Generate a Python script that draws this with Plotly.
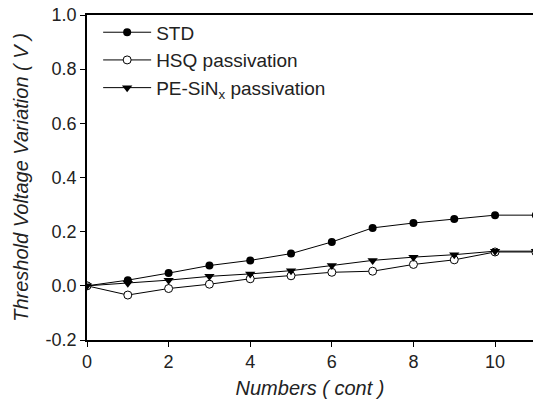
import plotly.graph_objects as go

numbers = [0, 1, 2, 3, 4, 5, 6, 7, 8, 9, 10, 11]
std_vals = [0.0, 0.021, 0.047, 0.075, 0.094, 0.119, 0.162, 0.214, 0.232, 0.247, 0.261, 0.261]
hsq_vals = [0.0, -0.034, -0.010, 0.006, 0.026, 0.037, 0.050, 0.054, 0.079, 0.096, 0.125, 0.125]
sin_vals = [0.0, 0.010, 0.021, 0.035, 0.044, 0.056, 0.075, 0.094, 0.106, 0.115, 0.128, 0.128]

x_ticks = [0, 2, 4, 6, 8, 10]
y_ticks = [-0.2, 0.0, 0.2, 0.4, 0.6, 0.8, 1.0]

font = "Liberation Sans, Arial, sans-serif"

fig = go.Figure()
fig.add_trace(go.Scatter(x=numbers, y=std_vals, name="STD", mode="lines+markers",
                         line=dict(color="black", width=1),
                         marker=dict(symbol="circle", size=8, color="black")))
fig.add_trace(go.Scatter(x=numbers, y=hsq_vals, name="HSQ passivation", mode="lines+markers",
                         line=dict(color="black", width=1),
                         marker=dict(symbol="circle", size=8, color="white",
                                     line=dict(color="black", width=1))))
fig.add_trace(go.Scatter(x=numbers, y=sin_vals, name="PE-SiN<sub>x</sub> passivation", mode="lines+markers",
                         line=dict(color="black", width=1),
                         marker=dict(symbol="triangle-down", size=9, color="black")))

fig.update_layout(
    width=533, height=406,
    margin=dict(l=87, r=0, t=15, b=66),
    paper_bgcolor="white", plot_bgcolor="white",
    font=dict(family=font, color="#222", size=18),
    showlegend=True,
    legend=dict(x=0.025, y=1.005, xanchor="left", yanchor="top",
                bgcolor="rgba(0,0,0,0)", font=dict(size=19, color="#222"),
                itemwidth=48, tracegroupgap=0),
    xaxis=dict(range=[0, 10.93], tickvals=x_ticks, ticktext=[str(v) for v in x_ticks],
               showgrid=False, zeroline=False, showline=True, linecolor="black", linewidth=1.5,
               mirror=True, ticks="outside", ticklen=5, tickcolor="black",
               ticklabeloverflow="allow",
               title=dict(text="<i>Numbers ( cont )</i>", font=dict(size=20), standoff=10)),
    yaxis=dict(range=[-0.2, 1.0], tickvals=y_ticks, ticktext=["%.1f" % v for v in y_ticks],
               showgrid=False, zeroline=False, showline=True, linecolor="black", linewidth=1.5,
               ticks="outside", ticklen=5, tickcolor="black",
               ticklabeloverflow="allow",
               title=dict(text="<i>Threshold Voltage Variation ( V )</i>", font=dict(size=20), standoff=12)),
)

fig.write_html("out.html", config={"displayModeBar": False},
               post_script="document.body.style.margin='0';document.body.style.overflow='hidden';")
